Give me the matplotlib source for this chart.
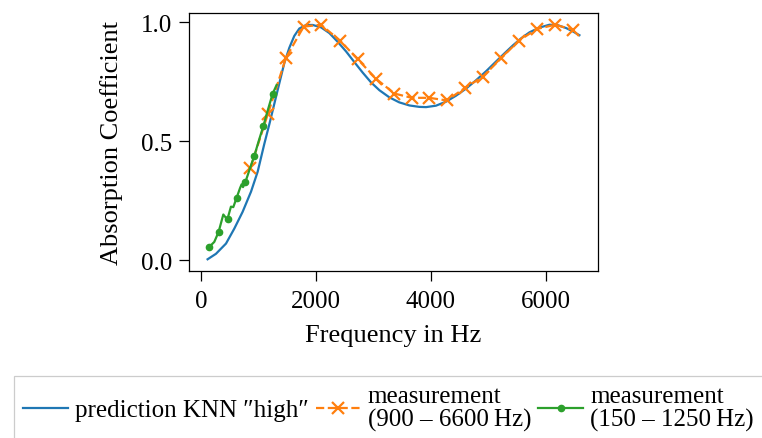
import matplotlib
matplotlib.use("Agg")
import matplotlib.pyplot as plt

plt.rcParams['font.family'] = ['Liberation Serif', 'DejaVu Serif']
plt.rcParams['mathtext.fontset'] = 'stix'

# prediction KNN "high"
pred_freq = [110, 256, 431, 576, 720, 867, 983, 1099, 1186, 1273, 1360, 1447, 1534,
             1621, 1709, 1826, 1942, 2087, 2232, 2378, 2523, 2668, 2813, 2958, 3104,
             3278, 3450, 3627, 3800, 3918, 4090, 4267, 4440, 4616, 4790, 4965, 5139,
             5285, 5430, 5575, 5720, 5894, 6068, 6213, 6359, 6475, 6590]
pred_alpha = [0.005, 0.028, 0.071, 0.134, 0.204, 0.289, 0.373, 0.490, 0.572, 0.658,
              0.744, 0.829, 0.893, 0.943, 0.974, 0.989, 0.989, 0.979, 0.955, 0.918,
              0.878, 0.833, 0.789, 0.748, 0.715, 0.685, 0.664, 0.651, 0.645, 0.644,
              0.650, 0.667, 0.692, 0.722, 0.757, 0.795, 0.836, 0.870, 0.903, 0.933,
              0.958, 0.978, 0.990, 0.988, 0.976, 0.962, 0.946]

# measurement (900 - 6600 Hz)
meas_hi_freq = [854, 1163, 1477, 1785, 2087, 2419, 2727, 3046, 3366, 3668, 3976,
                4278, 4598, 4906, 5226, 5534, 5848, 6168, 6475]
meas_hi_alpha = [0.387, 0.617, 0.852, 0.982, 0.990, 0.923, 0.845, 0.763, 0.701, 0.683,
                 0.683, 0.672, 0.725, 0.772, 0.849, 0.923, 0.972, 0.990, 0.969]

# measurement (150 - 1250 Hz)
meas_lo_freq = [139, 227, 302, 384, 430, 459, 517, 558, 616, 674, 703, 727, 767,
                849, 924, 999, 1081, 1163, 1243, 1313]
meas_lo_alpha = [0.057, 0.078, 0.120, 0.193, 0.179, 0.176, 0.226, 0.224, 0.263, 0.303,
                 0.320, 0.308, 0.328, 0.387, 0.439, 0.500, 0.564, 0.634, 0.700, 0.737]
meas_lo_marks = [0, 2, 5, 8, 12, 14, 16, 18]

fig = plt.figure(figsize=(7.62, 4.39), dpi=100)
ax = fig.add_axes([189/762, 1-272/439, (598-189)/762, (272-14)/439])

ax.plot(pred_freq, pred_alpha, color='tab:blue', lw=1.6, label='prediction KNN \u2033high\u2033')
ax.plot(meas_hi_freq, meas_hi_alpha, color='tab:orange', lw=1.6, ls='--', marker='x',
        ms=9, mew=1.6, label='measurement\n(900 \u2013 6600\u2009Hz)')
ax.plot(meas_lo_freq, meas_lo_alpha, color='tab:green', lw=1.6, marker='o', ms=4.5,
        markevery=meas_lo_marks, label='measurement\n(150 \u2013 1250\u2009Hz)')

ax.set_xticks([0, 2000, 4000, 6000])
ax.set_yticks([0.0, 0.5, 1.0])
ax.tick_params(labelsize=18, length=7, width=0.9)
ax.tick_params(axis='x', pad=7)
ax.tick_params(axis='y', pad=5)
ax.set_xlabel('Frequency in Hz', fontsize=19, labelpad=8)
ax.set_ylabel('Absorption Coefficient', fontsize=19, labelpad=13)
for s in ax.spines.values():
    s.set_linewidth(0.9)

leg = fig.legend(loc='upper left', bbox_to_anchor=(14/762, 1-377/439), ncol=3,
                 borderaxespad=0, fontsize=18, handlelength=1.8, handletextpad=0.28,
                 columnspacing=0.28, borderpad=0.36, fancybox=False,
                 edgecolor='#cccccc', framealpha=1)
leg.get_frame().set_linewidth(0.9)
for t in leg.get_texts():
    t.set_linespacing(1.05)

fig.savefig('out.png', dpi=100)
